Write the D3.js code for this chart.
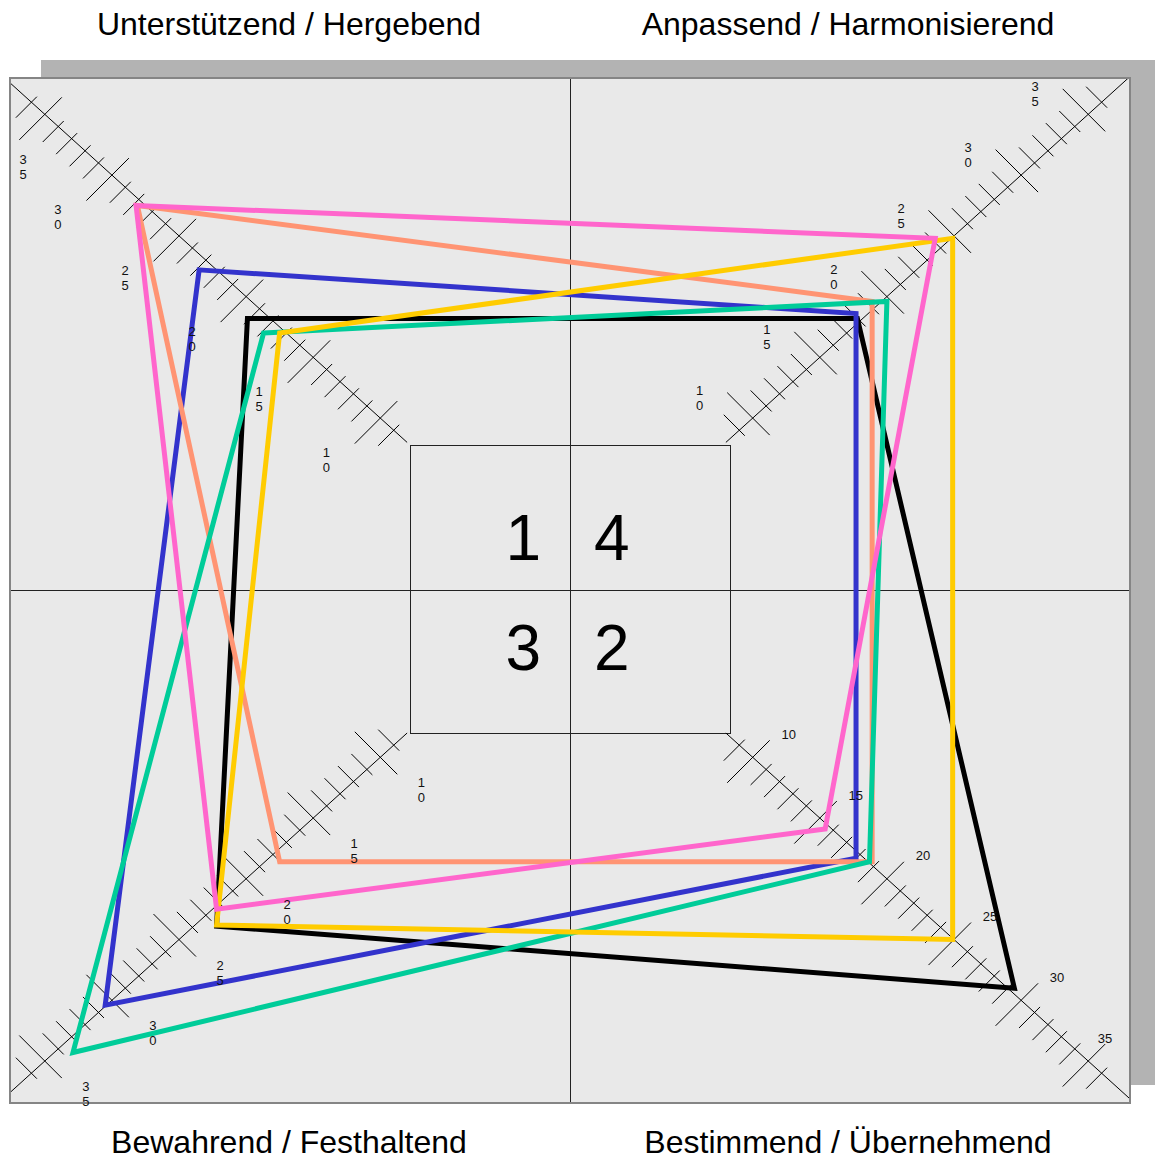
<!DOCTYPE html>
<html>
<head>
<meta charset="utf-8">
<script src="https://cdn.jsdelivr.net/npm/d3@7.9.0/dist/d3.min.js"></script>
<style>
  html, body { margin: 0; padding: 0; background: #fff; }
  svg { display: block; font-family: 'Liberation Sans', Arial, sans-serif; }
</style>
</head>
<body>
<svg id="chart" width="1155" height="1160"></svg>
<script>
// quadrant titles (top-left, top-right, bottom-left, bottom-right)
const titles = ['Unterstützend / Hergebend', 'Anpassend / Harmonisierend', 'Bewahrend / Festhaltend', 'Bestimmend / Übernehmend'];
// quadrant numbers in the centre box: NW, NE, SW, SE
const quadrantNumbers = ['1', '4', '3', '2'];
const majorTicks = [10, 15, 20, 25, 30, 35];
const minorTicks = [9, 11, 12, 13, 14, 16, 17, 18, 19, 21, 22, 23, 24, 26, 27, 28, 29, 31, 32, 33, 34, 36];

// profile lines: vertex values, order NW, NE, SE, SW (horizontal / vertical component)
const seriesColors = ['#000000', '#3333cc', '#ff9473', '#00cc99', '#ffcc00', '#ff66cc'];
const seriesX = [
  [19.9, 17.8, 29.5, 22.2],
  [23.5, 17.7, 17.7, 30.5],
  [28.1, 18.9, 18.9, 17.5],
  [18.7, 20.0, 18.7, 32.9],
  [17.5, 24.9, 24.9, 22.2],
  [28.2, 23.6, 15.4, 22.2],
];
const seriesY = [
  [18.2, 18.2, 29.0, 23.9],
  [22.2, 18.6, 18.3, 30.4],
  [27.5, 19.6, 18.6, 18.6],
  [17.0, 19.6, 18.6, 34.3],
  [17.0, 24.8, 25.0, 23.8],
  [27.5, 24.8, 15.9, 22.5],
];

const svg = d3.select('#chart');

const frame = { x: 10, y: 78, w: 1120, h: 1025 };
const inner = { x: 410.5, y: 445.5, w: 320, h: 288 };
const mid = { x: 570.5, y: 590.5 };
const c = { x: 566.5, y: 587.7 };

// diagonal scales: distance from centre in x and y
const rx = d3.scaleLinear().domain([0, 38]).range([52, 52 + 13.42 * 38]);
const ry = d3.scaleLinear().domain([0, 38]).range([48.1, 48.1 + 12.15 * 38]);
const dirs = [[-1, -1], [1, -1], [1, 1], [-1, 1]]; // NW, NE, SE, SW

function pos(q, vx, vy) {
  return [c.x + dirs[q][0] * rx(vx), c.y + dirs[q][1] * ry(vy)];
}

// shadow + frame
svg.append('rect')
  .attr('x', frame.x + 31).attr('y', frame.y - 18)
  .attr('width', frame.w).attr('height', frame.h)
  .attr('fill', '#b3b3b3');
svg.append('rect')
  .attr('x', frame.x).attr('y', frame.y)
  .attr('width', frame.w).attr('height', frame.h)
  .attr('fill', '#e9e9e9')
  .attr('stroke', '#858585').attr('stroke-width', 2);

svg.append('clipPath').attr('id', 'clip')
  .append('rect')
  .attr('x', frame.x + 1).attr('y', frame.y + 1)
  .attr('width', frame.w - 2).attr('height', frame.h - 2);

const g = svg.append('g').attr('clip-path', 'url(#clip)');

// centre cross and inner box
g.append('line')
  .attr('x1', mid.x).attr('x2', mid.x)
  .attr('y1', frame.y).attr('y2', frame.y + frame.h)
  .attr('stroke', '#222').attr('stroke-width', 1);
g.append('line')
  .attr('x1', frame.x).attr('x2', frame.x + frame.w)
  .attr('y1', mid.y).attr('y2', mid.y)
  .attr('stroke', '#222').attr('stroke-width', 1);
g.append('rect')
  .attr('x', inner.x).attr('y', inner.y)
  .attr('width', inner.w).attr('height', inner.h)
  .attr('fill', 'none')
  .attr('stroke', '#222').attr('stroke-width', 1);

// diagonal axes with ticks
dirs.forEach((d, q) => {
  const a = pos(q, 8, 8);
  const b = pos(q, 38.2, 38.2);
  g.append('line')
    .attr('x1', a[0]).attr('y1', a[1])
    .attr('x2', b[0]).attr('y2', b[1])
    .attr('stroke', '#000').attr('stroke-width', 1);

  // perpendicular direction, long side always towards the left
  const perp = d[0] * d[1] > 0 ? [-1, 1] : [-1, -1];
  const ticks = majorTicks.map(v => ({ v, left: 25.5, right: 17 }))
    .concat(minorTicks.map(v => ({ v, left: 15.5, right: 5.5 })));
  g.selectAll(null)
    .data(ticks)
    .join('line')
    .attr('x1', t => pos(q, t.v, t.v)[0] + perp[0] * t.left)
    .attr('y1', t => pos(q, t.v, t.v)[1] + perp[1] * t.left)
    .attr('x2', t => pos(q, t.v, t.v)[0] - perp[0] * t.right)
    .attr('y2', t => pos(q, t.v, t.v)[1] - perp[1] * t.right)
    .attr('stroke', '#000').attr('stroke-width', 1);
});

// tick labels
const labelOffsets = [[-54, 42], [-53, -20], [36, -23], [41, 33]];
dirs.forEach((d, q) => {
  majorTicks.forEach(v => {
    const p = pos(q, v, v);
    let lx = p[0] + labelOffsets[q][0];
    let ly = p[1] + labelOffsets[q][1];
    if (lx < 23) { ly += 11; lx = 23; }
    lx = Math.min(1105, lx);
    const txt = svg.append('text')
      .attr('font-size', 13)
      .attr('fill', '#111')
      .attr('text-anchor', 'middle');
    if (q === 2) {
      txt.attr('x', lx).attr('y', ly + 4.5).text(v);
    } else {
      const s = String(v);
      txt.append('tspan').attr('x', lx).attr('y', ly - 3).text(s[0]);
      txt.append('tspan').attr('x', lx).attr('y', ly + 12).text(s[1]);
    }
  });
});

// quadrant numbers
const numPos = [[541, 560, 'end'], [594, 560, 'start'], [541, 670, 'end'], [594, 670, 'start']];
quadrantNumbers.forEach((n, i) => {
  svg.append('text')
    .attr('x', numPos[i][0]).attr('y', numPos[i][1])
    .attr('text-anchor', numPos[i][2])
    .attr('font-size', 64)
    .attr('fill', '#000')
    .text(n);
});

// profile polygons
const line = d3.line().curve(d3.curveLinearClosed);
seriesColors.forEach((col, s) => {
  const pts = seriesX[s].map((vx, q) => pos(q, vx, seriesY[s][q]));
  g.append('path')
    .attr('d', line(pts))
    .attr('fill', 'none')
    .attr('stroke', col)
    .attr('stroke-width', 5)
    .attr('stroke-linejoin', 'miter');
});

// titles
const titlePos = [[289, 35], [848, 35], [289, 1153], [848, 1153]];
titles.forEach((t, i) => {
  svg.append('text')
    .attr('x', titlePos[i][0]).attr('y', titlePos[i][1])
    .attr('text-anchor', 'middle')
    .attr('font-size', 32)
    .attr('fill', '#000')
    .text(t);
});
</script>
</body>
</html>
